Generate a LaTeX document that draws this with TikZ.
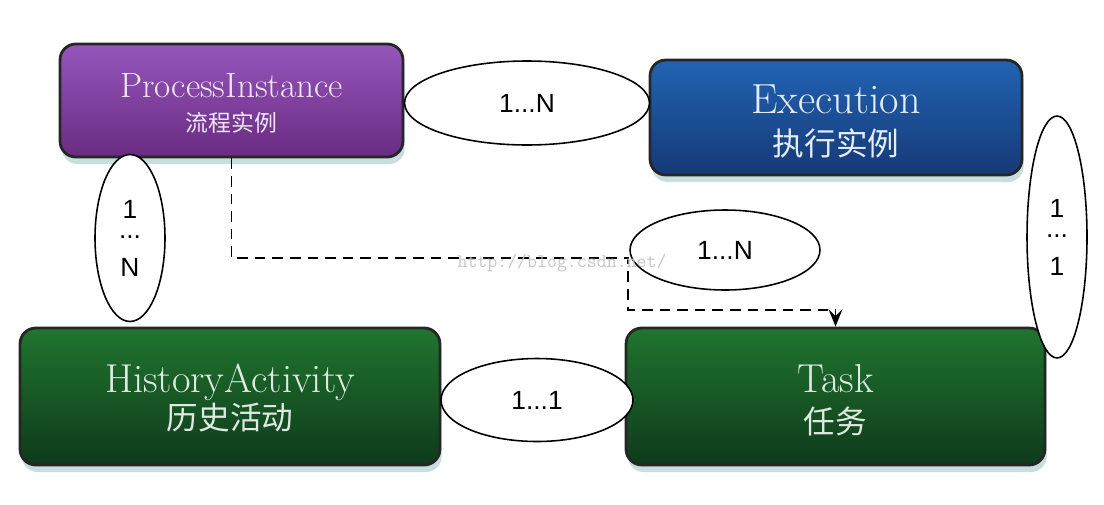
\documentclass[tikz,border=0pt]{standalone}
\usepackage{fontspec}
\newfontfamily\cjk{Noto Sans CJK SC}
\newfontfamily\numfont{Liberation Sans}
\usetikzlibrary{shapes.geometric,arrows.meta,shadows}
\definecolor{piTop}{HTML}{9556BC}
\definecolor{piBot}{HTML}{6A2B82}
\definecolor{exTop}{HTML}{2163B2}
\definecolor{exBot}{HTML}{163977}
\definecolor{grTop}{HTML}{20752F}
\definecolor{grBot}{HTML}{0F3A1B}
\definecolor{shade}{HTML}{B9D6D6}

\begin{document}
\begin{tikzpicture}[
    x=0.02cm, y=-0.02cm,
    entity/.style={
        draw=black!85,
        line width=1.6pt,
        rounded corners=9pt,
        shading angle=20,
        align=center,
        font=\fontsize{23}{26}\selectfont,
        drop shadow={shadow xshift=1pt, shadow yshift=-4pt, fill=shade, opacity=0.8},
    },
    rel/.style={
        ellipse,
        draw=black,
        line width=0.9pt,
        fill=white,
        inner sep=0pt,
        align=center,
        font=\numfont\fontsize{15}{16.5}\selectfont,
    },
    link/.style={
        dashed,
        line width=1.1pt,
        dash pattern=on 6pt off 4pt,
    },
  ]
  \useasboundingbox (0,0) rectangle (1104,504);

  % entities
  \node [entity, top color=piTop, bottom color=piBot, text=white!85!piTop,
    minimum width=6.86cm, minimum height=2.26cm, font=\fontsize{20}{23}\selectfont]
    (pi) at (231.5,100.5) {\rule{0pt}{17pt}ProcessInstance\\[-4pt]{\cjk\fontsize{13}{15}\selectfont 流程实例}};
  \node [entity, top color=exTop, bottom color=exBot, text=white!88!exTop,
    minimum width=7.44cm, minimum height=2.30cm, font=\fontsize{24}{27}\selectfont]
    (exec) at (836,117.5) {\rule{0pt}{21pt}Execution\\[-3pt]{\cjk\fontsize{18}{20}\selectfont 执行实例}};
  \node [entity, top color=grTop, bottom color=grBot, text=white!85!grTop,
    minimum width=8.40cm, minimum height=2.74cm]
    (hist) at (230,396.5) {\rule{0pt}{18pt}HistoryActivity\\[-5pt]{\cjk\fontsize{18}{20}\selectfont 历史活动}};
  \node [entity, top color=grTop, bottom color=grBot, text=white!85!grTop,
    minimum width=8.38cm, minimum height=2.74cm]
    (task) at (835.5,396.5) {\rule{0pt}{20pt}Task\\[-3pt]{\cjk\fontsize{18}{20}\selectfont 任务}};

  % dashed link
  \coordinate (bendA) at (628,258);
  \coordinate (bendB) at (628,310);
  \draw [link, -{Stealth[length=10pt, width=8pt, inset=4pt]}]
    (pi.south) |- (bendA) -- (bendB) -| (task.north);

  % relations
  \node [rel, minimum width=4.90cm, minimum height=1.68cm] (piExec) at (527,103) {1...N};
  \node [rel, minimum width=1.40cm, minimum height=3.34cm] (piHist) at (130,238)
    {1\\\raisebox{4.7pt}{...}\\N};
  \node [rel, minimum width=3.80cm, minimum height=1.60cm] (piTask) at (725,250) {1...N};
  \node [rel, minimum width=1.20cm, minimum height=4.84cm] (execTask) at (1057,237)
    {1\\\raisebox{4.7pt}{...}\\1};
  \node [rel, minimum width=3.84cm, minimum height=1.66cm] (histTask) at (537,400) {1...1};

  \node [text=gray!45, font=\ttfamily\fontsize{11}{12}\selectfont] (mark) at (562,263) {http://blog.csdn.net/};
\end{tikzpicture}
\end{document}
